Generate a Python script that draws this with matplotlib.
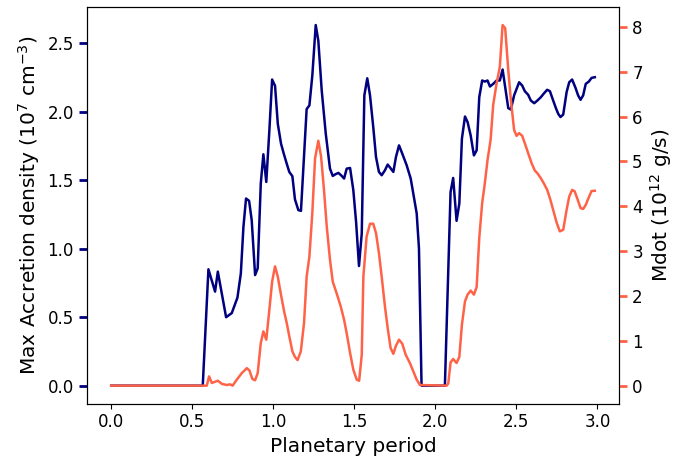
import matplotlib
matplotlib.use("Agg")
import matplotlib.pyplot as plt

# Max accretion density (1e7 cm^-3) versus planetary period
period_density = [0.0, 0.565, 0.60, 0.641, 0.658, 0.709, 0.744, 0.779, 0.80, 0.816,
                  0.832, 0.851, 0.867, 0.888, 0.904, 0.923, 0.939, 0.957, 0.976, 0.993,
                  1.011, 1.028, 1.048, 1.066, 1.083, 1.099, 1.118, 1.134, 1.155, 1.171,
                  1.206, 1.223, 1.241, 1.262, 1.278, 1.299, 1.324, 1.35, 1.367, 1.385,
                  1.402, 1.42, 1.437, 1.453, 1.474, 1.494, 1.511, 1.529, 1.546, 1.562,
                  1.58, 1.597, 1.617, 1.634, 1.652, 1.669, 1.689, 1.706, 1.724, 1.741,
                  1.757, 1.776, 1.796, 1.823, 1.848, 1.864, 1.885, 1.899, 1.915, 2.059,
                  2.094, 2.11, 2.131, 2.148, 2.164, 2.183, 2.199, 2.218, 2.238, 2.255,
                  2.271, 2.289, 2.306, 2.322, 2.337, 2.357, 2.378, 2.398, 2.415, 2.431,
                  2.45, 2.466, 2.486, 2.517, 2.536, 2.552, 2.573, 2.589, 2.61, 2.63,
                  2.651, 2.671, 2.69, 2.707, 2.727, 2.744, 2.758, 2.772, 2.789, 2.81,
                  2.826, 2.844, 2.865, 2.881, 2.896, 2.912, 2.928, 2.947, 2.964, 2.984]
density = [0.0, 0.0, 0.85, 0.687, 0.833, 0.50, 0.53, 0.643, 0.82, 1.16,
           1.367, 1.35, 1.209, 0.808, 0.857, 1.476, 1.69, 1.488, 1.865, 2.236,
           2.19, 1.913, 1.767, 1.69, 1.622, 1.561, 1.53, 1.36, 1.282, 1.277,
           2.02, 2.047, 2.265, 2.634, 2.52, 2.156, 1.84, 1.585, 1.532, 1.545,
           1.554, 1.535, 1.513, 1.585, 1.59, 1.428, 1.197, 0.874, 1.112, 2.12,
           2.245, 2.12, 1.889, 1.67, 1.561, 1.537, 1.573, 1.615, 1.588, 1.561,
           1.67, 1.755, 1.695, 1.61, 1.513, 1.403, 1.258, 1.003, 0.0, 0.0,
           1.415, 1.517, 1.204, 1.33, 1.804, 1.966, 1.925, 1.828, 1.682, 1.719,
           2.107, 2.229, 2.221, 2.229, 2.185, 2.204, 2.229, 2.229, 2.309, 2.18,
           2.027, 2.017, 2.12, 2.216, 2.192, 2.151, 2.124, 2.083, 2.063, 2.083,
           2.107, 2.136, 2.161, 2.151, 2.083, 2.027, 1.986, 1.962, 1.98, 2.144,
           2.216, 2.236, 2.175, 2.12, 2.088, 2.12, 2.204, 2.221, 2.248, 2.253]

# Mass accretion rate (1e12 g/s) versus planetary period
period_mdot = [0.0, 0.59, 0.604, 0.621, 0.658, 0.683, 0.713, 0.734, 0.749, 0.775,
               0.806, 0.837, 0.853, 0.871, 0.888, 0.904, 0.923, 0.939, 0.957, 0.974,
               0.993, 1.011, 1.028, 1.046, 1.067, 1.083, 1.099, 1.118, 1.134, 1.15,
               1.17, 1.19, 1.206, 1.223, 1.241, 1.258, 1.278, 1.295, 1.313, 1.33,
               1.35, 1.367, 1.391, 1.416, 1.437, 1.453, 1.474, 1.494, 1.515, 1.53,
               1.546, 1.556, 1.576, 1.597, 1.617, 1.634, 1.652, 1.669, 1.689, 1.706,
               1.724, 1.741, 1.757, 1.776, 1.796, 1.817, 1.843, 1.864, 1.885, 1.905,
               2.07, 2.08, 2.094, 2.11, 2.131, 2.148, 2.164, 2.183, 2.199, 2.218,
               2.238, 2.255, 2.271, 2.289, 2.306, 2.322, 2.341, 2.357, 2.378, 2.398,
               2.415, 2.431, 2.45, 2.466, 2.486, 2.501, 2.517, 2.536, 2.552, 2.573,
               2.594, 2.614, 2.63, 2.651, 2.671, 2.69, 2.707, 2.727, 2.748, 2.768,
               2.789, 2.81, 2.826, 2.844, 2.86, 2.877, 2.896, 2.912, 2.928, 2.947,
               2.964, 2.984]
mdot = [0.0, 0.0, 0.207, 0.06, 0.11, 0.04, 0.015, 0.03, 0.0, 0.134,
        0.28, 0.39, 0.34, 0.15, 0.12, 0.28, 0.95, 1.21, 1.025, 1.62,
        2.32, 2.66, 2.43, 2.06, 1.655, 1.40, 1.10, 0.764, 0.64, 0.57,
        0.764, 1.40, 2.43, 2.88, 3.85, 5.07, 5.46, 5.11, 4.365, 3.55,
        2.81, 2.32, 2.06, 1.77, 1.47, 1.17, 0.73, 0.356, 0.134, 0.11,
        0.69, 2.43, 3.325, 3.61, 3.61, 3.40, 2.955, 2.43, 1.77, 1.285,
        0.84, 0.71, 0.89, 1.025, 0.935, 0.69, 0.505, 0.32, 0.134, 0.015,
        0.0, 0.05, 0.52, 0.594, 0.505, 0.64, 1.36, 1.88, 2.03, 2.12,
        2.03, 2.20, 3.29, 4.07, 4.53, 5.03, 5.48, 6.26, 6.74, 7.11,
        8.04, 7.97, 7.04, 6.37, 5.70, 5.57, 5.63, 5.57, 5.405, 5.18,
        4.96, 4.795, 4.735, 4.625, 4.50, 4.365, 4.18, 3.92, 3.64, 3.44,
        3.475, 3.92, 4.215, 4.365, 4.33, 4.16, 3.96, 3.94, 4.03, 4.20,
        4.34, 4.345]

density_color = "navy"
mdot_color = "tomato"
label_size = 14.5
tick_size = 12

fig = plt.figure(figsize=(6.91, 4.61), dpi=100)
ax = fig.add_axes([0.1259, 0.1243, 0.7699, 0.8605])
ax.plot(period_density, density, color=density_color, lw=1.8)
ax.set_xlabel("Planetary period", fontsize=label_size)
ax.set_ylabel("Max Accretion density (10$^7$ cm$^{-3}$)", fontsize=label_size)
ax.tick_params(axis="x", labelsize=tick_size)
ax.tick_params(axis="y", labelsize=tick_size, color=density_color, length=6, width=2)

ax2 = ax.twinx()
ax2.plot(period_mdot, mdot, color=mdot_color, lw=1.8)
ax2.set_ylabel("Mdot (10$^{12}$ g/s)", fontsize=label_size)
ax2.tick_params(axis="y", labelsize=tick_size, color=mdot_color, length=6, width=2)

fig.savefig("out.png", dpi=100)
